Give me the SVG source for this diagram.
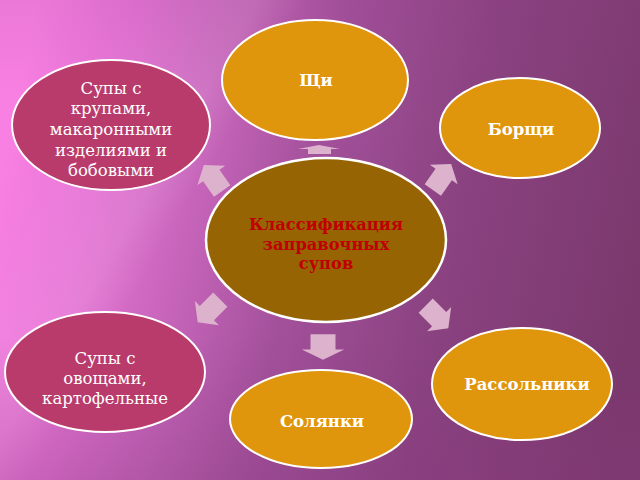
<svg xmlns="http://www.w3.org/2000/svg" width="640" height="480" viewBox="0 0 640 480">
<defs>
<linearGradient id="bg" gradientUnits="userSpaceOnUse" x1="0" y1="170" x2="640" y2="310">
<stop offset="0" stop-color="#f880e2"/>
<stop offset="0.14" stop-color="#e674d6"/>
<stop offset="0.32" stop-color="#c262b6"/>
<stop offset="0.47" stop-color="#a2509a"/>
<stop offset="0.7" stop-color="#8a4280"/>
<stop offset="1" stop-color="#7a386c"/>
</linearGradient>
<linearGradient id="shade" gradientUnits="userSpaceOnUse" x1="0" y1="0" x2="0" y2="480">
<stop offset="0" stop-color="#8a3a80" stop-opacity="0.12"/>
<stop offset="0.2" stop-color="#8a3a80" stop-opacity="0"/>
<stop offset="0.7" stop-color="#8a3a80" stop-opacity="0"/>
<stop offset="1" stop-color="#8a3a80" stop-opacity="0.3"/>
</linearGradient>
<linearGradient id="stripe" gradientUnits="userSpaceOnUse" x1="60" y1="120" x2="300" y2="260">
<stop offset="0" stop-color="#ffffff" stop-opacity="0"/>
<stop offset="0.4" stop-color="#ffffff" stop-opacity="0.1"/>
<stop offset="0.55" stop-color="#ffffff" stop-opacity="0"/>
<stop offset="1" stop-color="#ffffff" stop-opacity="0"/>
</linearGradient>
<path id="arr" d="M0,-16 L17,-3 L10,-3 L10,16 L-10,16 L-10,-3 L-17,-3 Z"/>
</defs>
<style>
.n1{fill:#e0960c;stroke:#ffffff;stroke-width:2}
.n2{fill:#b93b6c;stroke:#ffffff;stroke-width:2}
.nc{fill:#966402;stroke:#ffffff;stroke-width:2.5}
.tb{font-family:"DejaVu Serif","Liberation Serif",serif;font-weight:bold;font-size:16.5px;fill:#ffffff;text-anchor:middle}
.tn{font-family:"DejaVu Serif","Liberation Serif",serif;font-size:16.5px;fill:#ffffff;text-anchor:middle}
.tc{font-family:"DejaVu Serif","Liberation Serif",serif;font-weight:bold;font-size:16.3px;fill:#c00000;text-anchor:middle}
.a{fill:#dcb2cc}
</style>
<rect x="0" y="0" width="640" height="480" fill="url(#bg)"/>
<rect x="0" y="0" width="640" height="480" fill="url(#stripe)"/>
<rect x="0" y="0" width="640" height="480" fill="url(#shade)"/>
<g id="connectors">
<path class="a" d="M298,149 L319,145 L340,149 L331,149 L331,154 L308,154 L308,149 Z"/>
<use href="#arr" class="a" transform="translate(213,178) rotate(-35)"/>
<use href="#arr" class="a" transform="translate(442,177) rotate(35)"/>
<use href="#arr" class="a" transform="translate(209,311) rotate(-135)"/>
<use href="#arr" class="a" transform="translate(437,317) rotate(135)"/>
<use href="#arr" class="a" transform="translate(323,347) rotate(180) scale(1.25,0.8)"/>
</g>
<g id="center">
<ellipse class="nc" cx="326" cy="240" rx="120" ry="82"/>
<text class="tc" x="326" y="230">Классификация</text>
<text class="tc" x="326" y="250">заправочных</text>
<text class="tc" x="326" y="269">супов</text>
</g>
<g id="shchi">
<ellipse class="n1" cx="315" cy="80" rx="93" ry="60"/>
<text class="tb" x="316" y="86">Щи</text>
</g>
<g id="borshchi">
<ellipse class="n1" cx="520" cy="128" rx="80" ry="50"/>
<text class="tb" x="521" y="135">Борщи</text>
</g>
<g id="rassolniki">
<ellipse class="n1" cx="522" cy="384" rx="90" ry="56"/>
<text class="tb" x="527" y="390">Рассольники</text>
</g>
<g id="solyanki">
<ellipse class="n1" cx="321" cy="419" rx="91" ry="49"/>
<text class="tb" x="322" y="427">Солянки</text>
</g>
<g id="krupy">
<ellipse class="n2" cx="111" cy="125" rx="99" ry="65"/>
<text class="tn" x="111" y="94">Супы с</text>
<text class="tn" x="111" y="114">крупами,</text>
<text class="tn" x="111" y="135">макаронными</text>
<text class="tn" x="111" y="156">изделиями и</text>
<text class="tn" x="111" y="176">бобовыми</text>
</g>
<g id="ovoshchi">
<ellipse class="n2" cx="105" cy="372" rx="100" ry="60"/>
<text class="tn" x="105" y="364">Супы с</text>
<text class="tn" x="105" y="384">овощами,</text>
<text class="tn" x="105" y="404">картофельные</text>
</g>
</svg>
